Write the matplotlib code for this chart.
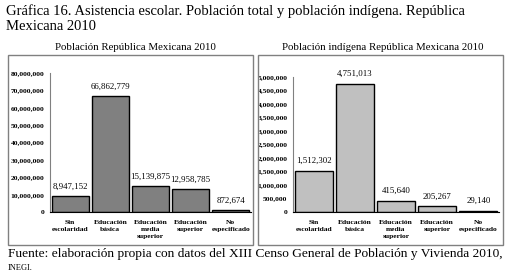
import matplotlib.pyplot as plt
from matplotlib.patches import Rectangle
from matplotlib.ticker import FuncFormatter

plt.rcParams['font.family'] = ['Liberation Serif', 'DejaVu Serif']

categorias = ['Sin\nescolaridad', 'Educación\nbásica', 'Educación\nmedia\nsuperior',
              'Educación\nsuperior', 'No\nespecificado']
total = [8947152, 66862779, 15139875, 12958785, 872674]
indigena = [1512302, 4751013, 415640, 205267, 29140]

W, H = 507, 278
fig = plt.figure(figsize=(W / 100, H / 100), dpi=100)


def px_axes(x0, y0, x1, y1):
    # pixel coords, y from top
    return fig.add_axes([x0 / W, (H - y1) / H, (x1 - x0) / W, (y1 - y0) / H])


def box(x0, y0, x1, y1):
    fig.patches.append(Rectangle((x0 / W, (H - y1) / H), (x1 - x0) / W, (y1 - y0) / H,
                                 transform=fig.transFigure, fill=False,
                                 edgecolor='#808080', lw=1.0))


def panel(ax, vals, color, ymax, step, offset):
    x = range(len(vals))
    ax.bar(x, vals, width=0.92, color=color, edgecolor='black', lw=1.0)
    ax.set_xlim(-0.5, len(vals) - 0.5)
    ax.set_ylim(0, ymax)
    ax.set_yticks(range(0, ymax + 1, step))
    ax.yaxis.set_major_formatter(FuncFormatter(lambda v, p: f'{int(v):,}'))
    ax.set_xticks(list(x))
    ax.set_xticklabels(categorias, fontsize=5.4, fontweight='bold', linespacing=1.45,
                       va='top')
    for lab in ax.get_yticklabels():
        lab.set_fontsize(5.4)
        lab.set_fontweight('bold')
    ax.tick_params(length=0, pad=4)
    ax.tick_params(axis='x', pad=6)
    for s in ['top', 'right']:
        ax.spines[s].set_visible(False)
    ax.spines['left'].set_color('#808080')
    ax.spines['bottom'].set_color('black')
    for i, v in enumerate(vals):
        ax.text(i, v + offset, f'{v:,}', ha='center', va='bottom', fontsize=6.3)


box(8, 55, 253, 245)
box(258, 55, 503, 245)

ax1 = px_axes(50, 73, 251, 212)
panel(ax1, total, '#808080', 80000000, 10000000, 3000000)

ax2 = px_axes(293, 77, 499, 212)
panel(ax2, indigena, '#c0c0c0', 5000000, 500000, 220000)

fig.text(6 / W, 1 - 4 / H, 'Gráfica 16. Asistencia escolar. Población total y población indígena. República\nMexicana 2010',
         ha='left', va='top', fontsize=10.5, linespacing=1.25)
fig.text(135 / W, 1 - 47 / H, 'Población República Mexicana 2010', ha='center', va='center', fontsize=7.8)
fig.text(383 / W, 1 - 47 / H, 'Población indígena República Mexicana 2010', ha='center', va='center', fontsize=7.8)
fig.text(8 / W, 1 - 254 / H, 'Fuente: elaboración propia con datos del XIII Censo General de Población y Vivienda 2010,',
         ha='left', va='center', fontsize=9.6)
fig.text(8 / W, 1 - 268 / H, 'INEGI.', ha='left', va='center', fontsize=6)

fig.savefig('out.png', dpi=100)
